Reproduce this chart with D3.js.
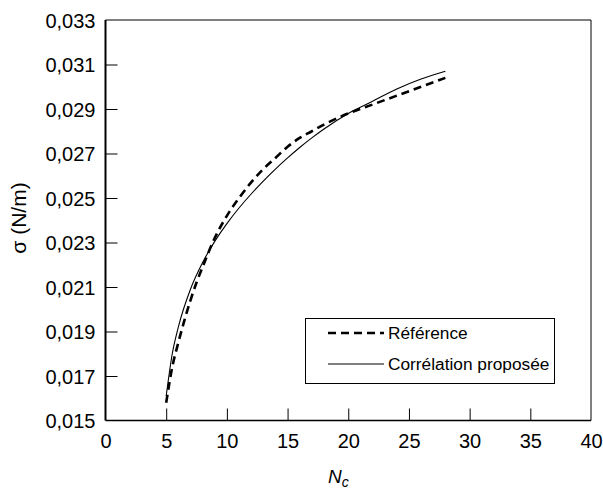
<!DOCTYPE html>
<html>
<head>
<meta charset="utf-8">
<script src="https://cdn.jsdelivr.net/npm/d3@7"></script>
<style>
  html, body { margin: 0; padding: 0; background: #fff; }
  svg { display: block; }
  text { font-family: "Liberation Sans", Arial, sans-serif; fill: #000; }
</style>
</head>
<body>
<svg id="chart" width="603" height="490"></svg>
<script>
// ---- data ----
const refN     = [5, 5.5, 6, 6.5, 7, 7.5, 8, 9, 10, 11, 12, 13, 14, 15, 16, 17, 18, 20, 22, 24, 26, 28];
const refSigma = [0.0158, 0.0174, 0.0185, 0.0195, 0.0204, 0.0212, 0.0219, 0.0232, 0.0242, 0.0250, 0.0257, 0.0263, 0.0268, 0.0273, 0.0277, 0.0280, 0.0283, 0.0288, 0.0292, 0.0296, 0.0300, 0.0304];

const corrN     = [5, 5.5, 6, 7, 8, 9, 10, 11, 12, 13, 14, 15, 16, 17, 18, 20, 22, 24, 26, 28];
const corrSigma = [0.0161, 0.0180, 0.0192, 0.0209, 0.0221, 0.02305, 0.02385, 0.02455, 0.02518, 0.02576, 0.0263, 0.0268, 0.02727, 0.0277, 0.0281, 0.0288, 0.02935, 0.0299, 0.03035, 0.0307];

const xTicks = [0, 5, 10, 15, 20, 25, 30, 35, 40];
const yTicks = [0.015, 0.017, 0.019, 0.021, 0.023, 0.025, 0.027, 0.029, 0.031, 0.033];

const seriesNames = ["Référence", "Corrélation proposée"];
const xTitle = "N";
const xTitleSub = "c";
const yTitle = "σ (N/m)";

(function () {
// ---- layout ----
const svg = d3.select("#chart");
const pL = 105.5, pR = 591, pT = 20, pB = 420.5;

const x = d3.scaleLinear().domain([0, 40]).range([pL, pR]);
const y = d3.scaleLinear().domain([0.015, 0.033]).range([pB, pT]);

const fmtY = v => d3.format(".3f")(v).replace(".", ",");

// axes (ticks inward)
const yAxis = d3.axisLeft(y).tickValues(yTicks).tickSizeInner(-12).tickSizeOuter(0).tickPadding(10).tickFormat(fmtY);
const xAxis = d3.axisBottom(x).tickValues(xTicks).tickSizeInner(-12).tickSizeOuter(0).tickPadding(13).tickFormat(d3.format("d"));

const gy = svg.append("g").attr("transform", `translate(${pL},0)`).call(yAxis);
const gx = svg.append("g").attr("transform", `translate(0,${pB})`).call(xAxis);
[gx, gy].forEach(g => {
  g.select(".domain").remove();
  g.selectAll("text").style("font-family", "'Liberation Sans', Arial, sans-serif").style("font-size", "20px").attr("fill", "#000");
  g.selectAll(".tick line").attr("stroke", "#000").attr("stroke-width", 1);
});
gy.selectAll(".tick").filter(d => d === 0.015 || d === 0.033).select("line").remove();
gx.selectAll(".tick").filter(d => d === 0 || d === 40).select("line").remove();
gy.selectAll("text").attr("dy", "0.36em");

// frame
svg.append("line").attr("x1", pL).attr("x2", pL).attr("y1", pT).attr("y2", pB).attr("stroke", "#000").attr("stroke-width", 2);
svg.append("line").attr("x1", pL).attr("x2", pR).attr("y1", pB).attr("y2", pB).attr("stroke", "#000").attr("stroke-width", 1.5);
svg.append("line").attr("x1", pL).attr("x2", pR).attr("y1", pT).attr("y2", pT).attr("stroke", "#000").attr("stroke-width", 1);
svg.append("line").attr("x1", pR).attr("x2", pR).attr("y1", pT).attr("y2", pB).attr("stroke", "#000").attr("stroke-width", 1);

// curves
const line = d3.line().x(d => x(d[0])).y(d => y(d[1])).curve(d3.curveMonotoneX);
const refData = refN.map((n, i) => [n, refSigma[i]]);
const corrData = corrN.map((n, i) => [n, corrSigma[i]]);

svg.append("path").datum(corrData).attr("d", line)
  .attr("fill", "none").attr("stroke", "#000").attr("stroke-width", 1.1);
svg.append("path").datum(refData).attr("d", line)
  .attr("fill", "none").attr("stroke", "#000").attr("stroke-width", 2.6).attr("stroke-dasharray", "8,5");

// legend
const lg = svg.append("g");
lg.append("rect").attr("x", 305.5).attr("y", 318.5).attr("width", 249).attr("height", 65)
  .attr("fill", "#fff").attr("stroke", "#000").attr("stroke-width", 1);
lg.append("line").attr("x1", 328).attr("x2", 384).attr("y1", 333).attr("y2", 333)
  .attr("stroke", "#000").attr("stroke-width", 2.6).attr("stroke-dasharray", "8,5");
lg.append("line").attr("x1", 328).attr("x2", 384).attr("y1", 364).attr("y2", 364)
  .attr("stroke", "#000").attr("stroke-width", 1.1);
lg.append("text").attr("x", 388).attr("y", 333).attr("dy", "0.36em").style("font-size", "17.3px").text(seriesNames[0]);
lg.append("text").attr("x", 388).attr("y", 364).attr("dy", "0.36em").style("font-size", "17.3px").text(seriesNames[1]);

// axis titles
const xt = svg.append("text").attr("x", 328).attr("y", 483).style("font-size", "19px").style("font-style", "italic");
xt.append("tspan").text(xTitle);
xt.append("tspan").attr("dy", 4).style("font-size", "14px").text(xTitleSub);

svg.append("text").attr("transform", "translate(26,218) rotate(-90)").attr("text-anchor", "middle")
  .style("font-size", "21px").text(yTitle);
})();
</script>
</body>
</html>
